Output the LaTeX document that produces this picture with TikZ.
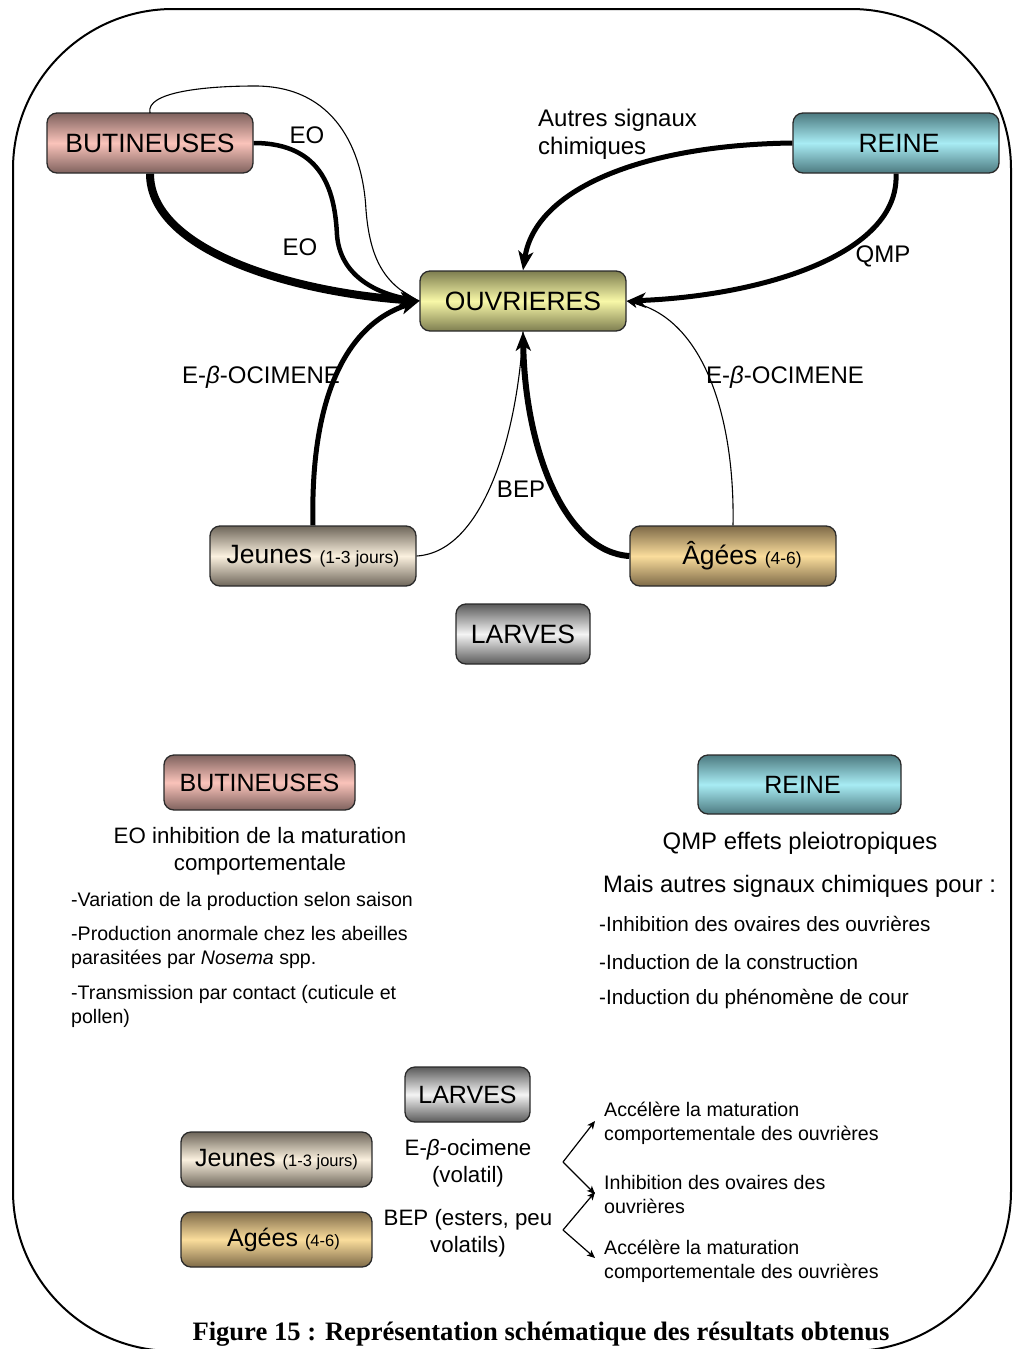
\documentclass[tikz,border=0pt]{standalone}
\usepackage{fontspec}
\setmainfont{Liberation Sans}
\newfontfamily\capfont{Liberation Serif}
\usetikzlibrary{arrows.meta}
\definecolor{butL}{HTML}{FAC3BA}\definecolor{butD}{HTML}{7F625E}
\definecolor{reiL}{HTML}{A8ECF4}\definecolor{reiD}{HTML}{4D7A80}
\definecolor{ouvL}{HTML}{F8F8A8}\definecolor{ouvD}{HTML}{7E7E50}
\definecolor{jeuL}{HTML}{FBF1DF}\definecolor{jeuD}{HTML}{6E665A}
\definecolor{ageL}{HTML}{FADD9C}\definecolor{ageD}{HTML}{7E6A48}
\definecolor{larL}{HTML}{F4F4F4}\definecolor{larD}{HTML}{5A5A5A}
\definecolor{edge}{HTML}{2A2A2A}
\tikzset{
  box/.style={draw=edge,line width=1.3pt,rounded corners=10pt,inner sep=0pt,align=center},
  big/.style={box,minimum width=206pt,minimum height=60pt,font=\fontsize{26.5}{30}\selectfont},
  small/.style={box,font=\fontsize{25}{29}\selectfont},
  tube/.style 2 args={top color=#2,bottom color=#2,middle color=#1},
  lbl/.style={inner sep=0pt,font=\fontsize{24}{28}\selectfont},
  txt/.style={inner sep=0pt,anchor=west,font=\fontsize{19.6}{24}\selectfont},
  arr/.style={line width=#1,-{Stealth[length=19pt,width=15pt,inset=5pt]}},
  thin/.style={line width=1.1pt,-{Stealth[length=11pt,width=9pt,inset=3pt]}},
  plain/.style={line width=1.1pt},
  fork/.style={line width=1.2pt,-{Stealth[length=8pt,width=7pt,inset=2pt]}}
}
\begin{document}
\begin{tikzpicture}[x=1pt,y=-1pt]
\useasboundingbox (0,0) rectangle (1013,1349);
\draw[line width=2pt,rounded corners=160pt] (13,9) rectangle (1011,1351);

% top diagram nodes
\node[big,tube={butL}{butD}] (but1) at (150,143) {BUTINEUSES};
\node[big,tube={reiL}{reiD}] (rei1) at (896,143) {\hspace*{6pt}REINE};
\node[big,tube={ouvL}{ouvD}] (ouv) at (523,301) {OUVRIERES};
\node[big,tube={jeuL}{jeuD}] (jeu1) at (313,556) {Jeunes {\fontsize{17.5}{20}\selectfont (1-3 jours)}};
\node[big,tube={ageL}{ageD}] (age1) at (733,556) {\hspace*{18pt}Âgées {\fontsize{17.5}{20}\selectfont (4-6)}};
\node[big,tube={larL}{larD},minimum width=134pt] (lar1) at (523,634) {LARVES};

% connectors into OUVRIERES
\draw[arr=8pt] (but1.south) .. controls (150,250) and (290,292) .. (ouv.west);
\draw[line width=4.5pt] (but1.east) .. controls (325,143) and (335,195) .. (337,235);
\draw[arr=4.5pt] (337,235) .. controls (340,275) and (375,293) .. (ouv.west);
\draw[plain] (150,113) .. controls (145,92) and (205,86) .. (255,86)
   .. controls (335,86) and (363,150) .. (366,210)
   .. controls (370,260) and (385,285) .. (ouv.west);
\draw[arr=5pt] (rei1.west) .. controls (640,145) and (535,190) .. (ouv.north);
\draw[arr=5pt] (rei1.south) .. controls (900,255) and (760,296) .. (ouv.east);
\draw[thin] (age1.north) .. controls (735,420) and (705,320) .. (ouv.east);
\draw[arr=5pt] (jeu1.north) .. controls (310,400) and (345,325) .. (ouv.west);
\draw[plain] (jeu1.east) .. controls (485,552) and (518,430) .. (ouv.south);
\draw[arr=6pt] (age1.west) .. controls (565,552) and (525,450) .. (ouv.south);

% labels
\node[lbl] (eo1) at (307,135) {EO};
\node[lbl] (eo2) at (300,247) {EO};
\node[lbl,anchor=west,align=left] (autres) at (538,134) {Autres signaux\\chimiques};
\node[lbl] (qmp) at (883,256) {QMP};
\node[lbl] (ocl) at (261,377) {E-\textit{β}-OCIMENE};
\node[lbl] (ocr) at (785,377) {E-\textit{β}-OCIMENE};
\node[lbl] (bep) at (521,489) {BEP};

% middle section
\node[small,tube={butL}{butD},minimum width=191pt,minimum height=55pt] (but2) at (259.5,782.5) {BUTINEUSES};
\node[small,tube={reiL}{reiD},minimum width=203pt,minimum height=59pt] (rei2) at (799.5,784.5) {\hspace*{6pt}REINE};
\node[inner sep=0pt,align=center,font=\fontsize{22.3}{27}\selectfont] (eoinh) at (260,851) {EO inhibition de la maturation\\comportementale};
\node[txt] (v1) at (71,901) {-Variation de la production selon saison};
\node[txt,align=left,anchor=north west] (v2) at (71,926) {-Production anormale chez les abeilles\\parasitées par \textit{Nosema} spp.};
\node[txt,align=left,anchor=north west] (v3) at (71,985) {-Transmission par contact (cuticule et\\pollen)};
\node[inner sep=0pt,font=\fontsize{23.9}{28}\selectfont] (qmpe) at (800,843) {QMP effets pleiotropiques};
\node[inner sep=0pt,anchor=west,font=\fontsize{23.8}{28}\selectfont] (mais) at (603,886) {Mais autres signaux chimiques pour :};
\node[txt,font=\fontsize{20.7}{24}\selectfont] (r1) at (599,924) {-Inhibition des ovaires des ouvrières};
\node[txt,font=\fontsize{20.7}{24}\selectfont] (r2) at (599,962) {-Induction de la construction};
\node[txt,font=\fontsize{20.7}{24}\selectfont] (r3) at (599,999) {-Induction du phénomène de cour};

% bottom section
\node[small,tube={larL}{larD},minimum width=125pt,minimum height=55pt] (lar2) at (467.5,1094.5) {LARVES};
\node[small,tube={jeuL}{jeuD},minimum width=191pt,minimum height=55pt] (jeu2) at (276.5,1159.5) {Jeunes {\fontsize{16.5}{20}\selectfont (1-3 jours)}};
\node[small,tube={ageL}{ageD},minimum width=191pt,minimum height=55pt] (age2) at (276.5,1239.5) {\hspace*{14pt}Agées {\fontsize{16.5}{20}\selectfont (4-6)}};
\node[inner sep=0pt,align=center,font=\fontsize{22.3}{26.5}\selectfont] (ocim) at (468,1163) {E-\textit{β}-ocimene\\(volatil)};
\node[inner sep=0pt,align=center,font=\fontsize{22.3}{26.5}\selectfont] (bep2) at (468,1233) {BEP (esters, peu\\volatils)};
\node[txt,align=left,font=\fontsize{19.6}{24}\selectfont] (e1) at (604,1123) {Accélère la maturation\\comportementale des ouvrières};
\node[txt,align=left,font=\fontsize{19.6}{24}\selectfont] (e2) at (604,1194) {Inhibition des ovaires des\\ouvrières};
\node[txt,align=left,font=\fontsize{19.6}{24}\selectfont] (e3) at (604,1261.5) {Accélère la maturation\\comportementale des ouvrières};
\coordinate (fa) at (563,1162);
\coordinate (fb) at (563,1230);
\coordinate (ta) at (595,1121);
\coordinate (tb) at (595,1194);
\coordinate (tc) at (595,1192);
\coordinate (td) at (595,1258);
\draw[fork] (fa) -- (ta);
\draw[fork] (fa) -- (tb);
\draw[fork] (fb) -- (tc);
\draw[fork] (fb) -- (td);

\node[inner sep=0pt,font=\capfont\bfseries\fontsize{26.6}{30}\selectfont] (cap) at (541,1334) {Figure 15 : Représentation schématique des résultats obtenus};
\end{tikzpicture}
\end{document}
